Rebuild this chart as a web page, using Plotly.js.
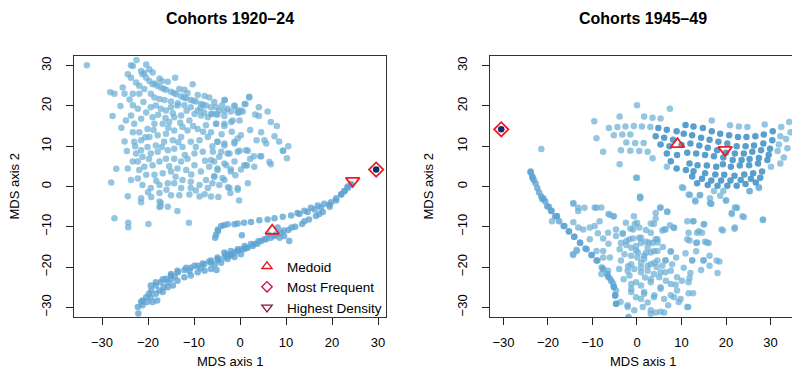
<!DOCTYPE html>
<html><head><meta charset="utf-8">
<script src="https://cdn.plot.ly/plotly-3.0.1.min.js"></script>
<style>html,body{margin:0;padding:0;overflow:hidden;background:#fff}#plot{width:800px;height:381px}</style>
</head><body><div id="plot"></div>
<script>
// ---------- Panel 1: Cohorts 1920-24 ----------
const leftCloud = [[-33.3,30.1],[-22.5,31.4],[-23.3,29.9],[-23.7,30.1],[-20.4,30.3],
[-21.5,28.7],[-21.2,27.9],[-20.4,27.0],[-19.7,26.2],[-19.0,25.4],[-18.0,25.0],[-17.2,24.6],[-16.1,24.0],[-15.0,23.5],[-13.9,22.9],[-12.8,22.4],[-11.7,21.9],[-10.7,21.5],[-9.6,21.1],[-8.5,20.5],[-7.4,20.1],[-6.3,19.7],
[-20.8,28.2],[-18.5,25.6],[-16.6,24.3],[-14.4,23.2],[-12.2,22.1],[-10.1,21.3],[-8.0,20.3],
[-19.7,29.1],[-19.0,28.3],[-17.5,26.8],[-17.0,26.2],[-15.7,26.0],[-14.1,27.0],[-13.2,24.2],[-12.1,24.0],[-11.4,23.2],[-10.3,25.4],[-9.2,22.7],[-7.7,22.5],[-6.7,22.1],[-5.2,19.7],[-3.4,21.5],[-1.2,19.9],[1.0,20.5],[2.0,22.1],
[-24.4,27.9],[-23.7,27.0],[-22.6,25.8],[-21.9,25.0],[-20.8,24.2],[-19.4,23.0],[-18.6,22.1],[-17.5,21.7],[-16.4,21.5],[-15.0,21.1],[-13.5,20.7],[-12.1,20.2],[-10.7,19.7],[-9.2,18.9],[-7.8,18.4],[-6.3,18.0],[-4.9,17.8],[-3.4,17.5],[-2.0,18.6],[-0.5,18.4],[0.2,18.9],
[-28.2,23.4],[-27.3,23.0],[-25.5,24.6],[-25.1,23.0],[-23.3,23.0],[-21.9,23.0],[-27.7,17.5],[-25.1,11.2],[-26.9,4.4],[-28.0,1.0],
[-23.3,20.2],[-22.2,19.3],[-23.7,17.6],[-24.8,16.4],[-23.0,15.6],[-21.5,16.8],[-20.4,18.4],[-19.4,19.7],[-18.3,20.1],[-17.2,19.3],[-16.1,18.9],[-15.0,19.7],[-13.6,20.1],[-12.8,17.6],[-14.3,17.2],[-15.4,16.0],[-16.8,15.6],[-18.6,15.6],[-20.1,14.3],[-21.9,13.5],[-23.3,13.5],[-23.0,11.1],[-21.5,11.5],[-19.7,12.3],[-17.9,12.7],[-16.1,13.1],[-14.3,13.9],[-12.5,14.8],[-11.0,16.4],[-9.9,18.0],[-8.5,17.6],[-7.0,17.2],[-6.0,18.0],[-4.5,18.9],[-2.7,19.3],[-0.5,18.9],[-1.6,16.4],[-3.4,15.6],[-5.2,15.6],[-7.4,15.2],[-9.2,14.3],[-11.4,13.9],[-12.8,12.3],[-14.6,11.5],[-16.5,11.1],[-18.3,10.2],[-20.1,9.8],[-21.5,9.0],[-22.6,8.2],[-22.2,6.2],[-21.2,7.4],[-19.4,8.2],[-17.9,8.6],[-15.7,9.0],[-14.3,9.4],[-12.5,9.8],[-10.7,11.1],[-8.8,11.5],[-7.0,12.3],[-4.9,11.1],[-3.4,10.2],[-1.2,11.1],[0.2,12.7],[1.3,9.0],[-0.5,8.6],[-2.7,8.2],[-4.5,7.4],[-6.3,6.6],[-8.1,8.6],[-9.9,8.2],[-11.4,6.9],[-12.8,6.2],[-14.3,6.9],[-16.1,6.9],[-17.5,6.2],[-19.0,5.3],[-20.8,4.9],[-21.9,4.1],[-23.3,6.2],[-24.4,4.5],[-23.7,1.6],[-22.2,2.0],[-20.4,2.9],[-18.6,2.9],[-16.8,3.3],[-15.0,3.7],[-13.6,4.5],[-11.7,4.1],[-9.9,5.3],[-8.5,3.7],[-6.7,4.9],[-4.9,4.5],[-3.0,5.3],[-1.2,6.2],[0.9,5.3],[-2.0,3.7],[-3.8,2.1],[-5.6,2.5],[-7.4,1.6],[-8.8,0.4],[-10.7,1.2],[-12.5,1.6],[-14.3,0.8],[-15.7,0.8],[-17.5,0.4],[-19.4,-0.4],[-21.2,0.4],[-12.8,-0.4],[-10.7,-0.4],[-7.0,-0.4],[-4.5,0.4],[-0.5,-0.4],[1.7,0.8],
[2.0,22.3],[1.2,20.5],[4.1,19.7],[3.3,17.9],[4.1,17.5],[6.7,16.0],[8.0,15.0],[8.5,11.2],[10.5,10.0],[9.4,8.9],[10.2,7.0],[6.4,6.1],[6.7,5.5],[3.6,11.5],[5.3,11.5],[5.7,10.7],[4.6,7.5],[3.0,7.5],[1.5,5.2],[-3.3,21.5],[-1.2,20.1],[-0.2,18.4],[0.6,18.6],[-5.2,18.0],[-3.4,18.8],
[-5.2,15.6],[-3.4,15.0],[-1.9,16.0],[-0.1,16.4],[-6.3,13.5],[-4.9,11.1],[-3.4,10.7],[-1.2,10.7],[-0.5,11.9],[-5.9,8.6],[-4.1,8.6],[-2.3,8.2],[-0.1,8.9],[1.7,8.9],[-5.6,6.2],[-3.4,5.7],[-2.0,4.3],[-4.9,4.1],[-5.6,2.5],[-3.4,1.6],[-0.5,-0.8],[-2.3,-0.4],[1.3,5.3],[3.1,4.9],[4.4,7.5],[9.3,8.9],
[-19.0,17.2],[-17.8,17.8],[-16.2,17.0],[-13.0,15.8],[-10.2,15.0],[-8.0,13.6],[-6.0,10.0],[-9.6,9.8],[-13.4,11.0],[-17.0,9.8],[-19.8,6.8],[-15.4,5.0],[-12.0,7.8],[-7.6,6.4],[-10.6,3.0],[-14.0,2.4],[-18.2,1.4],[-20.0,-1.4],[-16.0,-0.8],[-9.6,-1.0],[-6.0,0.8],[-2.6,-0.2],[-1.0,2.8],[0.2,4.2],[2.2,6.8],[-1.8,13.6],[-4.0,13.0],[2.2,14.0],[4.6,13.5],[-22.8,10.0],[-24.6,8.8],[-26.0,20.0],[-25.8,14.6],[-20.6,12.2],[-18.8,14.0],[-15.6,14.6],[-11.6,18.8],[-14.6,18.2],[-21.0,21.0],[-24.0,21.6],[-5.6,21.0],[-8.6,19.4],[-3.9,20.2],[6.0,18.6],[7.5,12.5],
[-27.3,-7.9],[-24.3,-9.0],[-24.3,-10.1],[-19.9,-9.3],[-11.1,-9.0],[-13.6,-6.1],[-15.7,-5.0],[-17.5,-5.1],[-17.2,-4.1],[-19.3,-2.6],[-21.5,-2.9],[-21.5,-3.9],[-24.4,-2.4],[-17.5,-1.6],[-15.0,-2.2],[-13.2,-2.2],[-11.0,-2.0],[-8.8,-2.5],[-7.7,-1.9],[-6.3,-2.5],[-4.7,-2.6],[-2.1,-1.6],[-0.2,-3.5],[-17.5,-3.7],[-17.3,-4.9]];

const leftCurve = [[-22.1,-31.5],[-22.2,-29.9],[-21.5,-28.6],[-21.2,-28.3],[-20.4,-27.5],[-19.8,-26.6],[-19.3,-25.8],[-18.3,-24.6],[-17.2,-23.8],[-16.1,-22.9],[-15.0,-22.1],[-13.5,-21.3],[-12.1,-20.7],[-10.7,-20.2],[-9.2,-19.7],[-7.8,-19.3],[-6.3,-18.9],[-4.8,-18.3],[-3.4,-17.6],[-2.0,-16.8],[-0.5,-16.0],[0.9,-15.6],[2.4,-14.3],[3.1,-14.3],[5.3,-13.1],[7.5,-12.3],[8.9,-11.5],[10.5,-10.8],[12.0,-10.0],[13.5,-9.3],[15.0,-8.2],[16.5,-7.3],[18.0,-6.3],[19.5,-5.0],[20.9,-3.5],[22.0,-2.0],[22.7,-1.2],[23.4,-0.4],[24.1,0.4],
[-21.2,-29.5],[-20.2,-28.7],[-19.4,-27.5],[-18.3,-26.6],[-17.5,-25.8],[-16.6,-25.0],[-15.7,-23.8],[-15.0,-23.0],[-18.0,-28.3],[-19.0,-28.7],[-16.8,-26.2],[-15.7,-25.0],[-14.6,-24.6],[-13.6,-23.4],[-12.1,-22.5],[-10.7,-22.1],[-9.2,-21.3],[-7.7,-20.9],[-6.3,-20.5],[-5.1,-20.7],[-4.1,-18.9],[-2.7,-18.0],[-1.2,-17.5],[0.2,-16.8],[-19.4,-24.6],[-18.3,-23.8],[-16.8,-23.0],[-15.0,-21.7],[-13.6,-20.9],[-11.7,-20.2],[-9.9,-19.7],[-8.1,-19.1],[-6.7,-18.6],[-4.8,-18.0],[-3.1,-16.8],[-2.0,-16.0],[-0.5,-15.6],[1.3,-15.2],
[-6.3,-18.4],[-4.9,-17.6],[-3.4,-16.4],[-2.3,-17.2],[-1.2,-16.4],[0.2,-15.6],[1.7,-15.2],[2.8,-14.8],[3.8,-14.2],[4.6,-13.5],[5.7,-13.1],[6.7,-12.7],[7.8,-11.9],[8.6,-12.7],[9.6,-12.3],[10.7,-13.5],[8.2,-10.2],[12.5,-6.6],[14.0,-6.0],[15.4,-5.3],[16.9,-4.7],[18.3,-4.3],[19.8,-3.9],[20.9,-2.9],[22.0,-1.9],[22.7,-1.1],[23.4,0.0],[24.1,0.6],
[-14.2,-22.3],[-11.0,-21.0],[-8.5,-20.3],[-5.5,-19.4],[-1.8,-17.0],[1.0,-14.8],[4.0,-13.6],[6.2,-12.0],[9.5,-10.9],[11.2,-10.2],[14.0,-8.6],[17.2,-6.8],[0.4,-12.1]];

const leftBranch = [[-5.4,-12.7],[-4.8,-11.1],[-4.1,-9.8],[-2.7,-9.4],[-1.2,-9.4],[0.9,-9.0],[-4.8,-10.7],[-0.5,-9.2],[2.4,-8.8],[4.2,-8.4],[6.0,-8.2],[7.5,-7.9],[9.3,-7.5],[11.1,-7.2],[12.9,-6.8],[14.7,-6.3],[16.2,-5.7],[17.6,-5.2],[19.4,-4.5],[-5.2,-12.0],[-3.5,-9.6]];

const leftMedoid = [7.0, -11.0];
const leftMostFreq = [29.6, 4.2];
const leftHighDens = [24.5, 1.4];

// ---------- Panel 2: Cohorts 1945-49 ----------
const rightGridCore = [[4.8,14.5],[6.7,14.1],[8.9,13.7],[10.9,15.3],[12.7,14.9],[14.8,14.5],[16.8,13.7],[18.7,13.1],[20.7,12.7],[22.7,12.3],[24.6,12.3],[26.6,12.5],[28.5,12.9],[30.5,13.7],
[4.2,12.5],[6.1,12.1],[8.1,11.6],[10.5,13.1],[12.4,12.7],[14.4,12.1],[16.3,11.6],[18.3,11.1],[20.3,10.7],[22.4,10.0],[24.4,10.0],[26.3,10.2],[28.4,10.7],[30.4,11.5],
[5.3,10.4],[7.3,10.0],[12.0,10.7],[14.0,10.2],[15.9,9.6],[18.0,9.0],[20.0,8.4],[22.0,8.2],[24.0,8.2],[25.9,8.6],[27.9,9.0],[29.9,9.4],
[6.7,8.2],[11.3,8.4],[13.3,8.2],[15.3,7.8],[17.3,7.5],[21.5,6.6],[23.5,6.6],[25.3,6.8],[27.4,7.1],[29.6,7.9],
[7.6,6.3],[11.8,5.7],[13.6,5.3],[15.7,5.2],[17.8,4.9],[19.3,5.5],[21.1,4.9],[23.1,5.2],[25.2,5.3],[27.2,5.7],[29.3,6.6],
[8.9,4.5],[11.0,4.1],[12.7,3.8],[15.3,3.3],[17.6,3.0],[19.6,2.9],[21.9,2.7],[24.1,3.0],[26.1,3.3],[28.1,3.7],
[12.4,2.5],[14.6,1.9],[16.7,1.5],[18.9,1.5],[21.0,1.5],[23.3,1.6],[25.6,1.9],[27.7,2.2],
[13.5,0.8],[15.9,0.4],[18.1,0.2],[20.3,0.2],[22.4,0.2],[24.4,0.6],[26.7,1.0],[19.4,7.2],[9.0,7.8],[10.0,10.3]];

const rightGridOuter = [[-6.3,14.5],[-4.4,14.8],[-2.6,14.9],[-0.7,15.0],[1.1,14.9],[3.0,14.8],[32.4,14.8],[34.2,16.0],[20.9,15.2],[22.9,14.9],[24.8,14.8],[28.7,15.4],
[1.6,17.4],[3.5,17.1],[5.3,16.9],[-3.9,17.4],[0.0,20.2],[7.4,19.3],[16.8,16.4],[-9.6,16.2],
[-5.2,12.7],[-3.3,12.9],[-1.5,12.9],[32.2,12.5],[-9.1,12.0],
[-2.4,10.9],[-0.4,10.8],[1.5,10.8],[31.9,10.4],
[-3.6,9.0],[-1.5,8.9],[0.5,8.8],[2.4,8.6],[31.6,8.8],[-7.6,8.6],
[-3.9,5.5],[3.5,7.0],[32.2,5.7],[6.7,4.9],[30.1,4.9],[27.4,-0.4],[25.3,-1.1],
[10.4,-0.4],[11.9,-2.1],[14.2,-2.1],[17.3,-1.1],[19.4,-1.1],[16.4,-2.9],[18.7,-2.3],[20.0,-3.5],[13.1,-3.5],[16.7,-4.3],[21.3,-6.8],[22.4,-5.3],[23.7,-7.4],[28.3,-8.2],[0.7,-2.9],[-0.2,2.2],
[-21.5,9.3],[33.5,11.8],[33.8,9.5],[33.0,7.2],[34.5,13.5]];

const rightArm = [[-23.9,3.7],[-23.5,2.2],[-22.8,0.8],[-22.4,-0.4],[-21.5,-2.5],[-20.6,-3.7],[-19.2,-6.0],[-18.0,-7.4],[-17.5,-8.6],[-16.5,-9.8],[-15.3,-11.2],[-14.1,-12.5],[-12.8,-14.0],[-11.3,-15.6],[-10.2,-17.0],[-8.9,-18.4],[-7.6,-20.5],[-6.5,-22.4],[-5.2,-24.8],[-4.9,-27.0],[-4.7,-29.1],
[-21.3,-3.1],[-20.2,-4.9],[-19.3,-6.1],[-18.4,-7.4],[-16.3,-9.8],[-15.3,-11.1],[-14.1,-12.5],[-12.8,-13.9],[-11.6,-15.4],[-10.2,-17.0],[-9.1,-18.4],[-7.9,-20.1],[-6.7,-21.7],[-5.8,-23.4],[-5.2,-25.0],[-4.9,-27.1],[-4.7,-29.1],[-1.9,-32.4],
[-23.9,3.5],[-23.5,2.5],[-23.2,1.6],[-22.0,-1.5],[-21.0,-3.0],[-19.8,-5.0]];

const rightCloud = [[-19.1,-8.6],[-14.3,-4.3],[-13.2,-6.1],[-11.8,-5.3],[-14.4,-16.8],[-13.5,-16.0],[-9.5,-5.2],[-8.0,-5.2],[-6.4,-6.8],[-5.3,-7.4],
[-18.0,-7.4],[-14.3,-8.9],[-13.2,-10.2],[-12.1,-10.7],[-10.6,-10.2],[-9.5,-9.8],[-8.4,-8.6],[-14.3,-17.0],[-13.6,-15.7],[-10.6,-13.1],[-7.6,-12.9],[-6.5,-11.5],[-4.7,-10.7],[-3.2,-11.6],[-9.1,-16.0],[-7.6,-16.0],[-7.6,-17.6],[-6.1,-17.6],[-8.0,-21.7],[-6.5,-20.9],[-6.1,-22.8],[-5.4,-24.0],[-4.7,-25.8],[-3.7,-28.7],[-2.1,-29.5],[-1.3,-26.2],[0.9,-27.9],[3.1,-30.7],[4.2,-31.3],[6.1,-31.3],[-13.2,-5.3],[-9.1,-5.3],[-14.3,-4.1],[-6.1,-7.0],[-5.2,-7.4],[-0.7,-7.4],[0.7,-2.5],[5.2,-5.3],[6.8,-6.2],[4.2,-6.6],[0.0,-9.0],[-0.9,-10.7],[0.5,-10.2],[3.1,-9.2],[6.1,-10.7],[8.3,-10.2],[-4.7,-12.3],[-2.4,-13.5],[-0.9,-12.9],[0.9,-12.7],[2.7,-13.9],[4.6,-13.9],[4.2,-13.1],[-3.9,-15.6],[-1.3,-15.2],[0.2,-16.4],[1.6,-17.2],[3.1,-16.4],[4.6,-16.0],[7.6,-16.2],[-3.6,-18.4],[-1.3,-19.3],[0.9,-18.9],[2.4,-19.7],[3.9,-18.9],[6.4,-18.4],[7.9,-19.3],[-1.7,-22.1],[-0.2,-23.8],[0.9,-21.3],[3.1,-23.0],[5.0,-22.5],[6.4,-21.3],[8.7,-24.4],[-1.3,-25.4],[1.6,-26.2],[3.9,-27.0],[5.3,-25.4],[7.6,-27.0],[9.4,-28.7],[11.3,-8.6],[12.7,-8.6],[15.0,-9.4],[13.5,-11.5],[11.3,-13.1],[13.5,-13.9],[15.7,-13.9],[17.9,-18.4],[14.9,-18.4],[12.4,-18.4],[19.0,-10.7],[22.0,-10.2],[21.3,-6.6],[22.4,-5.3],[16.4,-4.1],[13.1,-3.7],
[10.1,-0.2],[11.6,-2.0],[14.1,-2.2],[16.6,-4.3],[20.0,-3.5],[24.0,-7.6],[28.3,-8.3],[25.3,-1.2],[27.4,-0.2],[22.0,-5.2],[12.6,-8.6],[15.1,-9.4],[13.9,-11.1],[14.6,-11.5],[11.6,-11.5],[11.8,-13.4],[13.3,-14.0],[15.3,-13.7],[16.1,-14.0],[19.3,-10.9],[21.9,-10.5],[10.9,-16.6],[13.3,-16.1],[12.4,-18.3],[15.0,-18.3],[16.3,-17.2],[14.4,-20.7],[16.3,-19.7],[18.5,-18.6],[18.1,-21.5],[12.0,-21.5],[11.8,-22.7],[11.6,-23.8],[12.6,-26.5],[11.5,-29.9],[0.0,2.2],[0.7,-2.7],[5.3,-5.2],[6.8,-6.3],[-0.5,-9.3],[-1.5,-10.4],[3.8,-9.3],[4.2,-8.0],[7.4,-9.6],[8.3,-10.3],[5.7,-10.9],[6.4,-10.7],[-3.2,-11.7],[0.5,-12.7],[3.1,-11.5],[2.0,-13.7],[3.5,-14.0],[4.6,-13.1],[-3.6,-14.0],[-2.4,-14.5],[-1.7,-13.1],[-0.2,-14.8],[0.9,-14.0],[2.4,-15.2],[3.8,-16.0],[7.6,-16.1],[6.4,-18.3],[-2.8,-16.8],[-1.3,-17.2],[0.1,-17.6],[1.6,-18.0],[3.1,-19.3],[4.6,-18.4],[5.7,-19.7],[-2.1,-20.9],[-0.6,-20.5],[0.9,-20.1],[2.4,-20.9],[3.8,-21.7],[5.3,-21.3],[7.6,-20.9],[9.0,-22.5],[10.1,-23.4],[7.6,-24.2],[5.3,-25.0],[3.1,-23.8],[0.9,-24.6],[-1.3,-24.2],[-0.2,-27.5],[1.6,-26.6],[3.8,-27.5],[6.1,-27.9],[8.3,-27.5],[9.8,-27.9],[11.6,-26.5],[-2.1,-29.9],[-0.6,-30.7],[1.3,-29.9],[3.1,-31.6],[5.3,-31.1],[11.3,-29.9],
[-2.0,-19.8],[1.8,-22.6],[4.4,-20.0],[-0.2,-15.9],[2.0,-16.5],[5.8,-15.0],[-3.0,-23.0],[2.4,-28.8],[7.0,-29.5],[9.0,-25.8],[10.5,-20.2],[6.5,-23.4],[-4.0,-20.5],[8.8,-17.6],[-2.5,-9.0],[2.0,-10.8],[-6.4,-14.2],[-8.8,-11.6]];

const rightMedoid = [9.1, 10.5];
const rightMostFreq = [-30.5, 14.2];
const rightHighDens = [19.8, 9.1];

const tickVals = [-30, -20, -10, 0, 10, 20, 30];
const panelTitles = ['Cohorts 1920\u201324', 'Cohorts 1945\u201349'];
const xTitle = 'MDS axis 1', yTitle = 'MDS axis 2';
const legendNames = ['Medoid', 'Most Frequent', 'Highest Density'];

// ---------- build ----------
const FONT = 'Liberation Sans, Arial, Helvetica, sans-serif';
function pts(arr, xa, ya, color, size) {
  return {type:'scatter', mode:'markers', x: arr.map(p=>p[0]), y: arr.map(p=>p[1]),
    xaxis: xa, yaxis: ya, showlegend:false, hoverinfo:'skip',
    marker:{color: color, size: size || 6.5, line:{width:0}}};
}
function special(p, xa, ya, symbol, size, lw, color) {
  return {type:'scatter', mode:'markers', x:[p[0]], y:[p[1]], xaxis:xa, yaxis:ya, showlegend:false, hoverinfo:'skip',
    marker:{symbol: symbol, size: size, color: color, line:{width: lw, color: color}}};
}
const LIGHT = 'rgba(107,174,214,0.72)';
const MED = 'rgba(92,163,210,0.78)';
const DARK = 'rgba(66,146,198,0.88)';
const RED = '#ee1c25';
const NAVY = '#08306b';

const traces = [
  pts(leftCloud, 'x', 'y', LIGHT),
  pts(leftBranch, 'x', 'y', MED),
  pts(leftCurve, 'x', 'y', MED),
  pts([leftMostFreq], 'x', 'y', NAVY, 6.5),
  special(leftMedoid, 'x', 'y', 'triangle-up-open', 12, 1.8, RED),
  special(leftHighDens, 'x', 'y', 'triangle-down-open', 12, 1.8, RED),
  special(leftMostFreq, 'x', 'y', 'diamond-open', 11, 1.8, RED),

  pts(rightGridOuter, 'x2', 'y2', LIGHT),
  pts(rightCloud, 'x2', 'y2', LIGHT),
  pts(rightArm, 'x2', 'y2', MED),
  pts(rightGridCore, 'x2', 'y2', DARK),
  pts([rightMostFreq], 'x2', 'y2', NAVY, 6.5),
  special(rightMedoid, 'x2', 'y2', 'triangle-up-open', 12, 1.8, RED),
  special(rightHighDens, 'x2', 'y2', 'triangle-down-open', 12, 1.8, RED),
  special(rightMostFreq, 'x2', 'y2', 'diamond-open', 11, 1.8, RED),

  // legend entries
  {type:'scatter', mode:'markers', x:[null], y:[null], xaxis:'x', yaxis:'y', name: legendNames[0],
   marker:{symbol:'triangle-up-open', size:9, color:'#e8141c', line:{width:1.3, color:'#e8141c'}}},
  {type:'scatter', mode:'markers', x:[null], y:[null], xaxis:'x', yaxis:'y', name: legendNames[1],
   marker:{symbol:'diamond-open', size:8, color:'#c8103c', line:{width:1.3, color:'#c8103c'}}},
  {type:'scatter', mode:'markers', x:[null], y:[null], xaxis:'x', yaxis:'y', name: legendNames[2],
   marker:{symbol:'triangle-down-open', size:9, color:'#8a1530', line:{width:1.3, color:'#8a1530'}}}
];

const W = 800, H = 381;
function axX(domain, range) {
  return {domain: domain, range: range, tickvals: tickVals, ticks:'outside', ticklen:7, tickwidth:1, tickcolor:'#222',
    showline:true, mirror:true, linecolor:'#333', linewidth:1.3, showgrid:false, zeroline:false,
    tickfont:{family:FONT, size:13, color:'#000'}, ticklabelstandoff:6, fixedrange:true};
}
function axY(anchor, range) {
  return {domain:[1-317/H, 1-56/H], range: range, anchor: anchor, tickvals: tickVals, ticks:'outside', ticklen:7, tickwidth:1, tickcolor:'#222',
    showline:true, mirror:true, linecolor:'#333', linewidth:1.3, showgrid:false, zeroline:false, tickangle:-90,
    tickfont:{family:FONT, size:13, color:'#000'}, ticklabelstandoff:10, fixedrange:true};
}
const xa1 = axX([74/W, 386/W], [-36.09, 31.74]); xa1.anchor = 'y';
const xa2 = axX([490/W, 796/W], [-33.03, 35.73]); xa2.anchor = 'y2';

const ann = [];
function txt(text, x, y, size, angle, bold) {
  ann.push({text: bold ? '<b>'+text+'</b>' : text, x:x, y:y, xref:'paper', yref:'paper', showarrow:false,
    xanchor:'center', yanchor:'middle', textangle: angle || 0, font:{family:FONT, size:size, color:'#000'}});
}
txt(panelTitles[0], 230/W, 1-18/H, 16, 0, true);
txt(panelTitles[1], 643/W, 1-18/H, 16, 0, true);
txt(xTitle, 230/W, 1-361/H, 13);
txt(xTitle, 643/W, 1-361/H, 13);
txt(yTitle, 14/W, 1-186.5/H, 13, -90);
txt(yTitle, 428/W, 1-186.5/H, 13, -90);

const layout = {
  width: W, height: H, margin:{l:0, r:0, t:0, b:0}, paper_bgcolor:'#fff', plot_bgcolor:'#fff',
  xaxis: xa1, yaxis: axY('x', [-32.4, 32.4]),
  xaxis2: xa2, yaxis2: axY('x2', [-32.4, 32.4]),
  annotations: ann,
  showlegend: true,
  legend: {x: 247/W, y: 1-251/H, xanchor:'left', yanchor:'top', bgcolor:'rgba(0,0,0,0)', borderwidth:0,
    font:{family:FONT, size:13.5, color:'#000'}, itemwidth:30, tracegroupgap:0},
  font:{family:FONT}
};
Plotly.newPlot('plot', traces, layout, {staticPlot:true, displayModeBar:false});
</script></body></html>
